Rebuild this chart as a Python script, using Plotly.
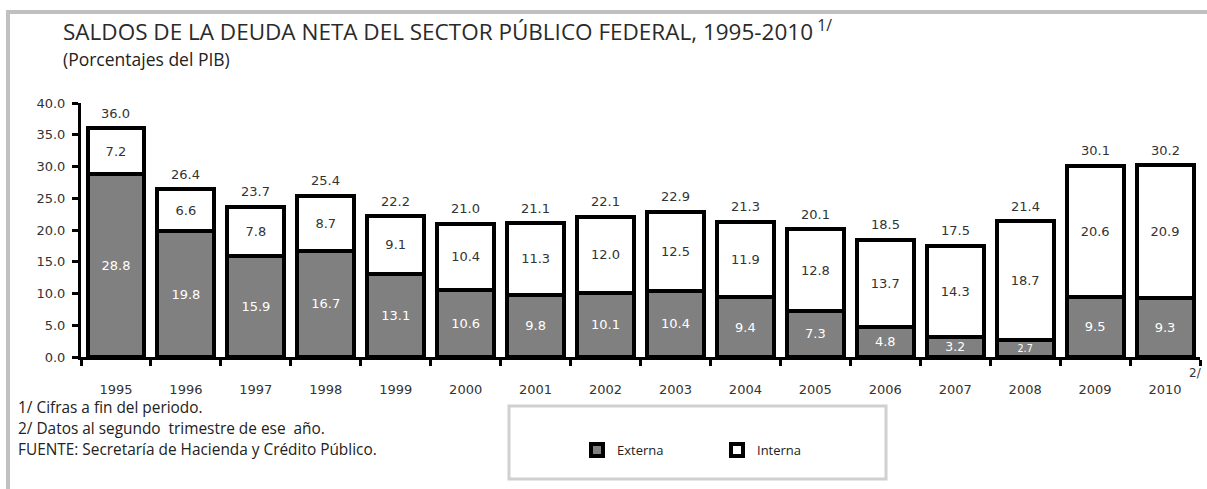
import plotly.graph_objects as go

years = ["1995", "1996", "1997", "1998", "1999", "2000", "2001", "2002",
         "2003", "2004", "2005", "2006", "2007", "2008", "2009", "2010"]
externa = [28.8, 19.8, 15.9, 16.7, 13.1, 10.6, 9.8, 10.1, 10.4, 9.4, 7.3, 4.8, 3.2, 2.7, 9.5, 9.3]
interna = [7.2, 6.6, 7.8, 8.7, 9.1, 10.4, 11.3, 12.0, 12.5, 11.9, 12.8, 13.7, 14.3, 18.7, 20.6, 20.9]
totales = [36.0, 26.4, 23.7, 25.4, 22.2, 21.0, 21.1, 22.1, 22.9, 21.3, 20.1, 18.5, 17.5, 21.4, 30.1, 30.2]

NUM_FONT = "DejaVu Sans"
TXT_FONT = "Open Sans"

# pixel -> paper helpers (plot area: x 81..1200, y 103..357)
L, R, T, B = 81, 1200, 103, 357
def px(x):
    return (x - L) / (R - L)
def py(y):
    return (B - y) / (B - T)

fig = go.Figure()
fig.add_trace(go.Bar(
    x=years, y=externa, name="Externa",
    marker=dict(color="#808080", line=dict(color="black", width=4)),
    text=[f"{v:.1f}" for v in externa], textposition="inside",
    insidetextanchor="middle", textangle=0,
    textfont=dict(family=NUM_FONT, size=13, color="white"),
    hoverinfo="skip",
))
fig.add_trace(go.Bar(
    x=years, y=interna, name="Interna",
    marker=dict(color="white", line=dict(color="black", width=4)),
    text=[f"{v:.1f}" for v in interna], textposition="inside",
    insidetextanchor="middle", textangle=0,
    textfont=dict(family=NUM_FONT, size=13, color="#333333"),
    hoverinfo="skip",
))

shapes = [
    # outer light-gray frame (top and left)
    dict(type="line", xref="paper", yref="paper", x0=px(6), x1=px(1212), y0=py(12), y1=py(12),
         line=dict(color="#c0c0c0", width=4)),
    dict(type="line", xref="paper", yref="paper", x0=px(8), x1=px(8), y0=py(10), y1=py(492),
         line=dict(color="#c0c0c0", width=4)),
    # legend box
    dict(type="rect", xref="paper", yref="paper", x0=px(509), x1=px(886), y0=py(406), y1=py(479),
         line=dict(color="#d0d0d0", width=3), fillcolor="white", layer="below"),
]

annotations = [
    dict(x=i, y=tot, xref="x", yref="y", text=f"{tot:.1f}", showarrow=False,
         yanchor="middle", yshift=15, font=dict(family=NUM_FONT, size=13, color="#333333"))
    for i, tot in enumerate(totales)
]
annotations += [
    dict(text="SALDOS DE LA DEUDA NETA DEL SECTOR PÚBLICO FEDERAL, 1995-2010<sup> 1/</sup>",
         x=px(61), y=py(30), xref="paper", yref="paper", xanchor="left", yanchor="middle",
         showarrow=False, font=dict(family=TXT_FONT, size=22.5, color="#2a2a2a")),
    dict(text="(Porcentajes del PIB)", x=px(61), y=py(59), xref="paper", yref="paper",
         xanchor="left", yanchor="middle", showarrow=False,
         font=dict(family=TXT_FONT, size=17.5, color="#222222")),
    dict(text="2/", x=px(1187), y=py(373), xref="paper", yref="paper", xanchor="left",
         yanchor="middle", showarrow=False, font=dict(family=NUM_FONT, size=12, color="#333333")),
    dict(text="1/ Cifras a fin del periodo.", x=px(16), y=py(407), xref="paper", yref="paper",
         xanchor="left", yanchor="middle", showarrow=False,
         font=dict(family=TXT_FONT, size=15.4, color="#222222")),
    dict(text="2/ Datos al segundo  trimestre de ese  año.", x=px(16), y=py(428), xref="paper",
         yref="paper", xanchor="left", yanchor="middle", showarrow=False,
         font=dict(family=TXT_FONT, size=15.4, color="#222222")),
    dict(text="FUENTE: Secretaría de Hacienda y Crédito Público.", x=px(16), y=py(449),
         xref="paper", yref="paper", xanchor="left", yanchor="middle", showarrow=False,
         font=dict(family=TXT_FONT, size=15.4, color="#222222")),
]

fig.update_layout(
    width=1207, height=489,
    margin=dict(l=L, r=1207 - R, t=T, b=489 - B, autoexpand=False),
    paper_bgcolor="white", plot_bgcolor="white",
    barmode="stack", bargap=0.186,
    showlegend=True,
    legend=dict(orientation="h", x=px(577), y=py(450), xanchor="left", yanchor="middle",
                bgcolor="rgba(0,0,0,0)", entrywidth=95, entrywidthmode="pixels",
                font=dict(family=TXT_FONT, size=13, color="#222222"),
                itemwidth=30, traceorder="normal"),
    shapes=shapes, annotations=annotations,
    xaxis=dict(type="category", showgrid=False, showline=True, linecolor="black", linewidth=3,
               ticks="outside", tickson="boundaries", ticklen=6, tickwidth=3, tickcolor="black",
               ticklabelstandoff=18, automargin=False,
               tickfont=dict(family=NUM_FONT, size=13, color="#333333"),
               range=[-0.5, 15.5], fixedrange=True),
    yaxis=dict(range=[0, 40], dtick=5, tickformat=".1f", showgrid=False, showline=True,
               linecolor="black", linewidth=3, ticks="outside", ticklen=6, tickwidth=3,
               tickcolor="black", zeroline=False, automargin=False, ticklabelstandoff=4,
               tickfont=dict(family=NUM_FONT, size=13, color="#333333"), fixedrange=True),
)

fig.write_html("out.html", config={"displayModeBar": False},
               post_script="document.body.style.margin='0';")
